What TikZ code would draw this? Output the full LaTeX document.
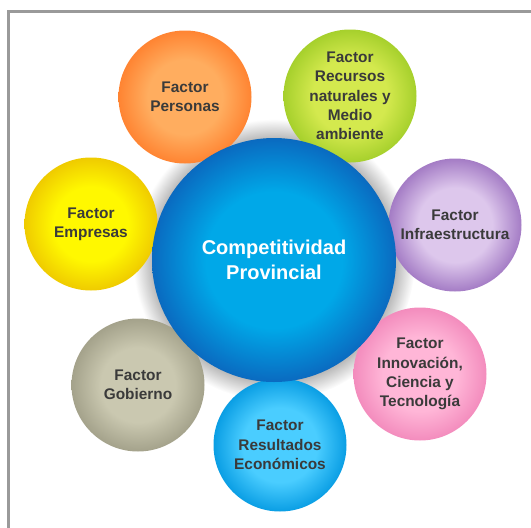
\documentclass[tikz,border=0pt]{standalone}
\usepackage{fontspec}
\setmainfont{Liberation Sans}
\usepackage{tikz}

\definecolor{frame}{HTML}{9A9A9A}
\definecolor{txt}{HTML}{3A3A3A}
\colorlet{orbin}{white}
\colorlet{orbout}{black}

% ball look: flat light centre, darker rim
\pgfdeclareradialshading[orbin,orbout]{orb}{\pgfpoint{0bp}{0bp}}{color(0bp)=(orbin); color(14bp)=(orbin); color(25bp)=(orbout); color(50bp)=(orbout)}
% soft shadow round the big circle
\pgfdeclareradialshading{halo}{\pgfpoint{0bp}{0bp}}{color(0bp)=(black!28); color(21.5bp)=(black!28); color(25bp)=(white); color(50bp)=(white)}

\tikzset{
  orbcolors/.style 2 args={/utils/exec={\definecolor{orbin}{HTML}{#1}\definecolor{orbout}{HTML}{#2}}, shade, shading=orb},
  factor/.style 2 args={circle, minimum size=133pt, inner sep=0pt, align=center,
    text=txt, font=\bfseries\fontsize{15.4}{19.3}\selectfont, orbcolors={#1}{#2}},
}

\begin{document}
\begin{tikzpicture}[x=1pt,y=-1pt]
         \useasboundingbox (0,0) rectangle (531,528);
         \draw[frame,line width=2.5pt] (8.5,528) |- (531,11.5);

         \coordinate (M) at (274,260);
         \shade[shading=halo] (M) circle (141);

         \node[factor={FFAD5F}{FF8432}](P) at (185,97) {Factor\\Personas};
         \node[factor={D4E94E}{A6D02C}](R) at (350,96) {Factor\\Recursos\\naturales y\\Medio\\ambiente};
         \node[factor={FFF800}{EFCB00}](E) at (91,224) {Factor\\Empresas};
         \node[factor={DDC7EC}{A47CC5}](I) at (455,225) {Factor\\Infraestructura};
         \node[factor={FFB6D7}{F38CBD}](N) at (420,374) {Factor\\Innovación,\\Ciencia y\\Tecnología};
         \node[factor={CAC8B0}{A4A28B}](G) at (138,385) {Factor\\Gobierno};
         \node[factor={4ACDFF}{0A9EE4}](S) at (280,445) {Factor\\Resultados\\Económicos};

         \node[circle,minimum size=244pt,inner sep=0pt,align=center,text=white,
           font=\bfseries\fontsize{20}{25}\selectfont,
           orbcolors={00A8E8}{0A6AC0}](C) at (M) {Competitividad\\Provincial};
\end{tikzpicture}
\end{document}
